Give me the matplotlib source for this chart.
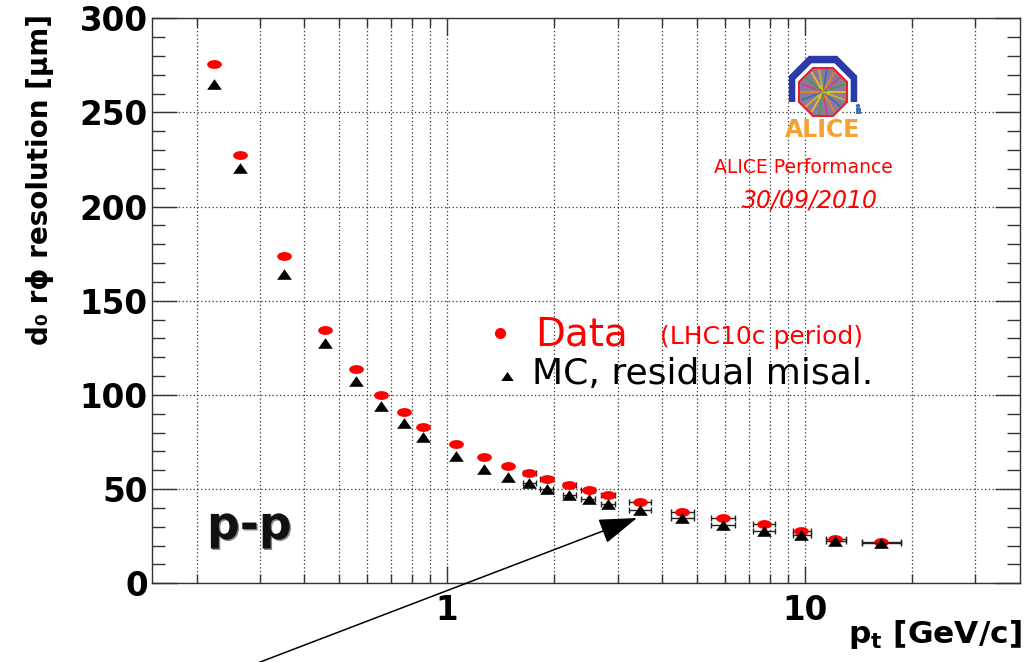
import numpy as np
import matplotlib
matplotlib.use("Agg")
import matplotlib.pyplot as plt
from matplotlib.path import Path
from matplotlib.transforms import Affine2D
from matplotlib.patches import RegularPolygon, Rectangle, FancyArrowPatch, Circle
from matplotlib.ticker import FixedLocator, NullFormatter, FixedFormatter, MultipleLocator
import matplotlib.patheffects as pe

plt.rcParams["font.family"] = ["DejaVu Sans"]
plt.rcParams["mathtext.default"] = "bf"

# transverse momentum bins [GeV/c]
pt = [0.223, 0.264, 0.351, 0.456, 0.556, 0.656, 0.758, 0.859, 1.06, 1.27, 1.48,
      1.70, 1.90, 2.20, 2.49, 2.82, 3.46, 4.55, 5.91, 7.72, 9.79, 12.2, 16.4]
# d0 r-phi resolution [um]
d0_data = [275.6, 227.5, 173.8, 134.5, 113.6, 100.2, 90.8, 83.2, 73.8, 66.9, 62.3,
           58.7, 55.5, 52.4, 49.5, 46.9, 43.2, 38.0, 34.8, 31.3, 27.8, 23.4, 21.9]
d0_mc = [265.2, 220.7, 164.1, 127.8, 107.6, 94.2, 85.0, 77.9, 67.8, 60.9, 56.6,
         53.1, 50.2, 47.1, 44.6, 42.1, 38.7, 34.5, 31.0, 27.9, 25.6, 22.6, 21.2]
# horizontal bars only drawn from the 12th bin on
first_bar = 11
bar_lo = [1.635, 1.821, 2.106, 2.379, 2.705, 3.23, 4.24, 5.48, 7.19, 9.26, 11.47, 14.51]
bar_hi = [1.774, 1.983, 2.294, 2.592, 2.947, 3.73, 4.90, 6.37, 8.28, 10.42, 13.04, 18.57]

W, H = 1035, 662
fig = plt.figure(figsize=(W / 100, H / 100), dpi=100)
fig.patch.set_facecolor("white")


def fx(x):
    return x / W


def fy(y):
    return 1 - y / H


ax = fig.add_axes([fx(152), fy(583.3), fx(1020) - fx(152), fy(18.3) - fy(583.3)])
ax.set_xscale("log")
ax.set_xlim(0.15, 40)
ax.set_ylim(0, 300)

# markers (wide ellipse and flat triangle)
ellipse = Path.unit_circle().transformed(Affine2D().scale(1.0, 0.6))
triangle = [(-1, -0.72), (1, -0.72), (0, 0.72), (-1, -0.72)]

x_b = np.array(pt[first_bar:])
xerr = [x_b - np.array(bar_lo), np.array(bar_hi) - x_b]
ax.errorbar(x_b, d0_data[first_bar:], xerr=xerr, fmt="none", ecolor="#222222",
            elinewidth=1.0, capsize=2.5, capthick=1.0, zorder=3)
ax.plot(pt, d0_data, linestyle="none", marker=ellipse, markersize=10.6,
        color="#ff0000", markeredgewidth=0, zorder=4)
ax.errorbar(x_b, d0_mc[first_bar:], xerr=xerr, fmt="none", ecolor="#222222",
            elinewidth=1.0, capsize=2.5, capthick=1.0, zorder=5)
ax.plot(pt, d0_mc, linestyle="none", marker=triangle, markersize=10.6,
        color="black", markeredgewidth=0, zorder=6)

# ticks and grid
ax.xaxis.set_major_locator(FixedLocator([1, 10]))
ax.xaxis.set_major_formatter(FixedFormatter(["1", "10"]))
minor_x = [m * d for d in (0.1, 1, 10) for m in range(2, 10) if 0.15 < m * d < 40]
ax.xaxis.set_minor_locator(FixedLocator(minor_x))
ax.xaxis.set_minor_formatter(NullFormatter())
ax.yaxis.set_major_locator(MultipleLocator(50))
ax.yaxis.set_minor_locator(MultipleLocator(10))

ax.tick_params(which="both", direction="in", top=True, right=True, color="#333333", width=1.0)
ax.tick_params(axis="y", which="major", length=18, labelsize=23.5, pad=3)
ax.tick_params(axis="y", which="minor", length=9.5)
ax.tick_params(axis="x", which="major", length=12, labelsize=23.5, pad=8)
ax.tick_params(axis="x", which="minor", length=6.5)
for lab in ax.get_xticklabels() + ax.get_yticklabels():
    lab.set_fontweight("bold")

grid_kw = dict(color="#333333", linestyle=(0, (1, 2)), linewidth=0.9)
ax.xaxis.grid(True, which="both", **grid_kw)
ax.yaxis.grid(True, which="major", **grid_kw)
ax.set_axisbelow(True)
for s in ax.spines.values():
    s.set_linewidth(1.0)
    s.set_color("#333333")

# axis titles
fig.text(fx(1022), fy(643), "p$_{t}$ [GeV/c]", ha="right", va="baseline",
         fontsize=22.5, fontweight="bold")
fig.text(fx(40), fy(14), "d\u2080 r\u03d5 resolution [\u03bcm]", rotation=90,
         ha="center", va="top", fontsize=20, fontweight="bold")

# legend
ax.plot([fx(500)], [fy(333)], transform=fig.transFigure, marker="o", markersize=8,
        color="#ff0000", markeredgewidth=0, clip_on=False)
ax.plot([fx(507)], [fy(376)], transform=fig.transFigure, marker=triangle, markersize=9,
        color="black", markeredgewidth=0, clip_on=False)
fig.text(fx(535), fy(345), "Data", color="#ff0000", fontsize=28, va="baseline")
fig.text(fx(660), fy(344), "(LHC10c period)", color="#ff0000", fontsize=18, va="baseline")
fig.text(fx(532), fy(384), "MC, residual misal.", color="black", fontsize=26, va="baseline")

# collision system label
fig.text(fx(207), fy(539), "p-p", fontsize=33, fontweight="bold", color="#111111",
         va="baseline",
         path_effects=[pe.withSimplePatchShadow(offset=(1.0, -1.0), shadow_rgbFace="#333333",
                                                alpha=0.6)])

# ALICE performance stamp
fig.text(fx(714), fy(173), "ALICE Performance", color="#ff0000", fontsize=13.5, va="baseline")
fig.text(fx(742), fy(207), "30/09/2010", color="#ff0000", fontsize=17, style="italic",
         va="baseline")

logo = fig.add_axes([fx(775), fy(147), fx(880) - fx(775), fy(45) - fy(147)])
logo.set_xlim(0, 105)
logo.set_ylim(0, 102)
logo.set_facecolor("white")
logo.axis("off")
logo.patch.set_visible(True)
cx, cy = 48, 55
ring = RegularPolygon((cx, cy + 2), numVertices=8, radius=37, orientation=np.pi / 8,
                      facecolor="#2a3aa8", edgecolor="none")
logo.add_patch(ring)
clip = Rectangle((0, 45), 105, 60, transform=logo.transData)
ring.set_clip_path(clip)
logo.add_patch(RegularPolygon((cx, cy + 1), numVertices=8, radius=30, orientation=np.pi / 8,
                              facecolor="white", edgecolor="none"))
logo.add_patch(RegularPolygon((cx, cy), numVertices=8, radius=26, orientation=np.pi / 8,
                              facecolor="#8c7a9c", edgecolor="#e8202a", linewidth=1.5))
for ang, col in zip(np.arange(0, 360, 20), ["#f0c020", "#40a040", "#d04080", "#f08020",
                                            "#3070c0", "#c0c020"] * 3):
    a = np.deg2rad(ang)
    logo.plot([cx, cx + 22 * np.cos(a)], [cy, cy + 22 * np.sin(a)], color=col, lw=1.2)
logo.add_patch(Circle((cx, cy), 7, facecolor="#f5b030", edgecolor="none", alpha=0.9))
logo.add_patch(Circle((83, 41), 2.2, facecolor="#4070c0", edgecolor="none"))
logo.add_patch(Rectangle((80.5, 33), 5, 6, facecolor="#4070c0", edgecolor="none"))
logo.text(48, 17, "ALICE", ha="center", va="center", fontsize=17, fontweight="bold",
          color="#f5a030")

# arrow pointing at the high-pt points
arrow = FancyArrowPatch((fx(255), fy(664)), (fx(637), fy(518)), transform=fig.transFigure,
                        arrowstyle="-|>,head_length=2.4,head_width=0.8", mutation_scale=10,
                        color="black", linewidth=1.1, shrinkA=0, shrinkB=0, clip_on=False)
fig.add_artist(arrow)

fig.savefig("out.png", dpi=100, facecolor="white")
